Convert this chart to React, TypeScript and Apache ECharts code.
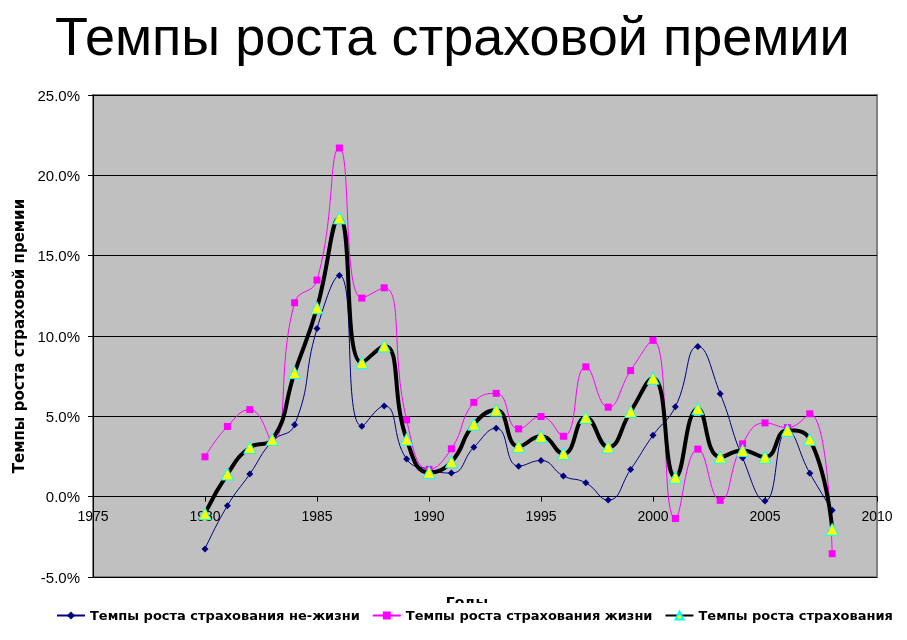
import React, { useEffect, useRef } from "react";
import * as echarts from "echarts";

const years = [1980, 1981, 1982, 1983, 1984, 1985, 1986, 1987, 1988, 1989, 1990, 1991, 1992, 1993, 1994, 1995, 1996, 1997, 1998, 1999, 2000, 2001, 2002, 2003, 2004, 2005, 2006, 2007, 2008];
const nonLife = [-3.25, -0.56, 1.41, 3.45, 4.47, 10.46, 13.77, 4.39, 5.65, 2.34, 1.7, 1.47, 3.07, 4.26, 1.9, 2.25, 1.29, 0.86, -0.21, 1.69, 3.82, 5.6, 9.35, 6.41, 2.42, -0.27, 4.1, 1.46, -0.84];
const life = [2.48, 4.37, 5.42, 3.5, 12.07, 13.48, 21.7, 12.36, 13.0, 4.78, 1.7, 2.98, 5.87, 6.43, 4.22, 4.99, 3.76, 8.08, 5.57, 7.85, 9.73, -1.36, 2.96, -0.23, 3.29, 4.59, 4.3, 5.16, -3.55];
const total = [-1.06, 1.41, 3.06, 3.56, 7.72, 11.76, 17.35, 8.34, 9.38, 3.58, 1.51, 2.17, 4.51, 5.39, 3.13, 3.76, 2.67, 4.93, 3.09, 5.3, 7.37, 1.21, 5.47, 2.46, 2.88, 2.46, 4.13, 3.57, -2.03];
const seriesNames = ["Темпы роста страхования не-жизни", "Темпы роста страхования жизни", "Темпы роста страхования"];
const title = "Темпы роста страховой премии";
const yTitle = "Темпы роста страховой премии";
const xTitle = "Годы";

const pairs = (vals: number[]) => years.map((y, i) => [y, vals[i]]);

export default function App() {
  const ref = useRef<HTMLDivElement>(null);
  useEffect(() => {
    if (!ref.current) return;
    const chart = echarts.init(ref.current, undefined, { renderer: "svg" });
    const font = "Arial, 'Liberation Sans', sans-serif";
    const wide = "'DejaVu Sans', sans-serif";
    const gridTop = 95;
    const gridBottom = 63;
    const yMin = -5;
    const yMax = 25;
    const plotH = 640 - gridTop - gridBottom;
    const zeroOffset = -(plotH * (0 - yMin)) / (yMax - yMin);
    chart.setOption({
      animation: false,
      textStyle: { fontFamily: font },
      title: {
        text: title,
        left: 50,
        top: 4,
        textStyle: { fontSize: 54, fontWeight: "normal", color: "#000", fontFamily: font },
      },
      grid: {
        left: 93,
        right: 30,
        top: gridTop,
        bottom: gridBottom,
        outerBoundsMode: "none",
        containLabel: false,
        show: true,
        backgroundColor: "#C0C0C0",
        borderColor: "#808080",
        borderWidth: 2,
      },
      xAxis: {
        type: "value",
        min: 1975,
        max: 2010,
        interval: 5,
        position: "bottom",
        offset: zeroOffset,
        axisLine: { onZero: false, lineStyle: { color: "#000", width: 1 } },
        axisTick: { show: true, inside: false, length: 5, lineStyle: { color: "#000" } },
        axisLabel: { color: "#000", fontSize: 14, margin: 12, fontFamily: font, formatter: (v: number) => String(v) },
        splitLine: { show: false },
      },
      yAxis: {
        type: "value",
        min: yMin,
        max: yMax,
        interval: 5,
        name: yTitle,
        nameLocation: "middle",
        nameRotate: 90,
        nameGap: 65,
        nameTextStyle: { fontSize: 15, fontWeight: "bold", color: "#000", fontFamily: wide },
        axisLine: { show: true, lineStyle: { color: "#000", width: 1 } },
        axisTick: { show: true, length: 5, lineStyle: { color: "#000" } },
        axisLabel: { color: "#000", fontSize: 15, margin: 13, fontFamily: font, formatter: (v: number) => v.toFixed(1) + "%" },
        splitLine: { show: true, lineStyle: { color: "#000", width: 1 } },
      },
      legend: {
        top: 603,
        left: 50,
        backgroundColor: "#fff",
        padding: [6, 6, 6, 6],
        itemGap: 12,
        itemWidth: 28,
        itemHeight: 10,
        textStyle: { fontSize: 13, fontWeight: "bold", color: "#000", fontFamily: wide },
        data: seriesNames,
        z: 10,
      },
      graphic: [
        {
          type: "text",
          x: 467,
          y: 595,
          z: 1,
          style: { text: xTitle, fontSize: 14, fontWeight: "bold", fill: "#000", fontFamily: wide, textAlign: "center", textVerticalAlign: "top" },
        },
      ],
      series: [
        {
          name: seriesNames[0],
          type: "line",
          data: pairs(nonLife),
          smooth: 0.5,
          symbol: "diamond",
          symbolSize: 7,
          showAllSymbol: true,
          lineStyle: { color: "#000080", width: 1 },
          itemStyle: { color: "#000080" },
          z: 3,
        },
        {
          name: seriesNames[1],
          type: "line",
          data: pairs(life),
          smooth: 0.5,
          symbol: "rect",
          symbolSize: 7,
          showAllSymbol: true,
          lineStyle: { color: "#FF00FF", width: 1 },
          itemStyle: { color: "#FF00FF" },
          z: 4,
        },
        {
          name: seriesNames[2],
          type: "line",
          data: pairs(total),
          smooth: 0.5,
          symbol: "triangle",
          symbolSize: 12,
          showAllSymbol: true,
          lineStyle: { color: "#000", width: 4 },
          itemStyle: { color: "#FFFF00", borderColor: "#00FFFF", borderWidth: 1 },
          z: 5,
        },
      ],
    });
    return () => chart.dispose();
  }, []);
  return <div ref={ref} style={{ position: "fixed", left: 0, top: 0, width: 907, height: 640 }} />;
}
